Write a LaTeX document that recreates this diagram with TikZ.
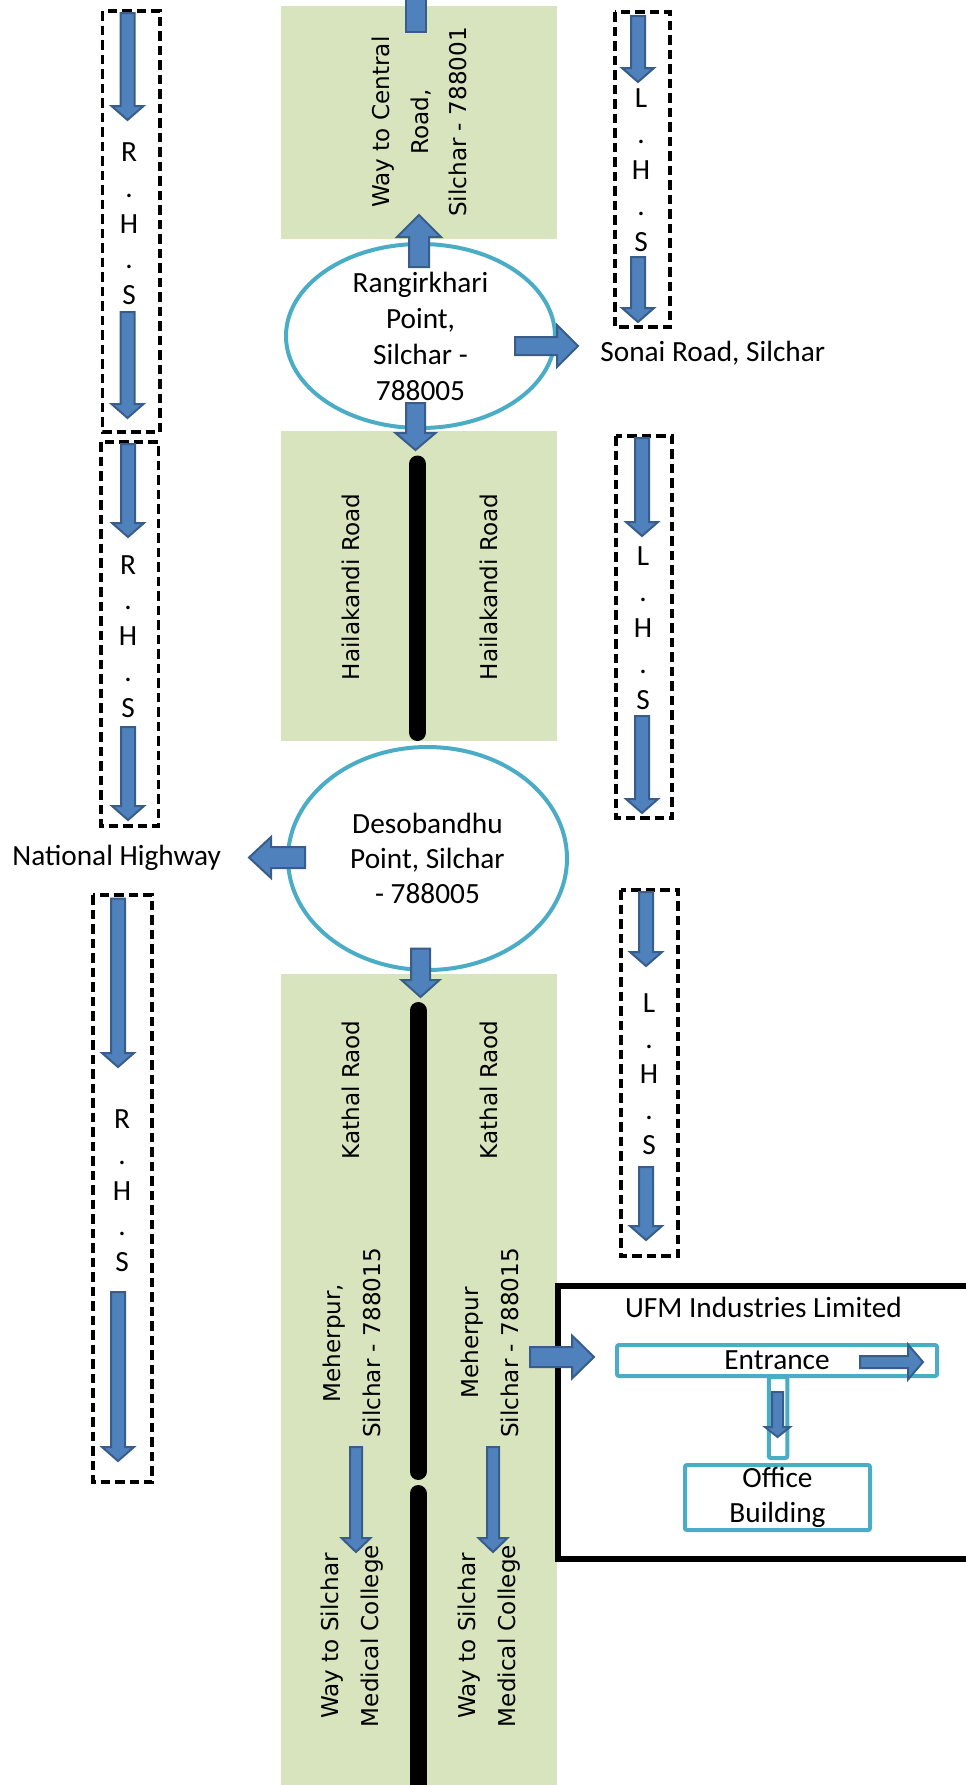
\documentclass[tikz,border=0pt]{standalone}
\usepackage{fontspec}
\setmainfont{Carlito}
\newfontfamily\dejavufont{DejaVu Sans}
\usetikzlibrary{shapes.geometric}
\definecolor{roadgreen}{HTML}{D7E4BD}
\definecolor{ringcyan}{HTML}{4BACC6}
\definecolor{arrfill}{HTML}{4F81BD}
\definecolor{arredge}{HTML}{385D8A}
% #1 x, #2 y (tail), #3 rotation, #4 length, #5 shaft half width, #6 head half width, #7 head length
\newcommand{\blockarr}[7]{%
  \begin{scope}[shift={(#1,#2)},rotate=#3]
    \draw[barrow] (0,-#5) -- ({#4-#7},-#5) -- ({#4-#7},-#6) -- (#4,0) -- ({#4-#7},#6) -- ({#4-#7},#5) -- (0,#5) -- cycle;
  \end{scope}}
% #1 x, #2 first baseline, #3 spacing, #4 first letter, #5 name
\newcommand{\sideletters}[5]{%
  \foreach \t [count=\i from 0] in {#4,.,H,.,S}
    \node[lbl, anchor=base] (#5-\i) at (#1,{#2+\i*#3}) {\t};}
\begin{document}
\begin{tikzpicture}[x=0.5pt,y=-0.5pt,
  greenbox/.style={fill=roadgreen, inner sep=0, minimum width=138pt},
  roadline/.style={line width=8.5pt, line cap=round},
  ring/.style={ellipse, draw=ringcyan, line width=2pt, fill=white, inner sep=0},
  dbox/.style={draw, line width=1.6pt, dash pattern=on 4.75pt off 2.5pt},
  barrow/.style={fill=arrfill, draw=arredge, line width=1pt, line join=miter},
  lbl/.style={font=\fontsize{14.65}{18}\selectfont, inner sep=0, align=center},
  vt/.style={font=\dejavufont\fontsize{11.55}{20}\selectfont, rotate=90, inner sep=0, align=center},
  cbox/.style={draw=ringcyan, line width=2pt, rounded corners=1pt, inner sep=0},
]
\useasboundingbox (0,0) rectangle (965,1785);

% green road boxes
\node[greenbox, minimum height=116.5pt] (road1) at (419,122.5) {};
\node[greenbox, minimum height=155pt] (road2) at (419,586) {};
\node[greenbox, minimum height=408pt] (road3) at (419,1382) {};

% black centre lines
\draw[roadline] (417.5,464) -- (417.5,732.5);
\draw[roadline] (418,1010.5) -- (418,1471.5);
\draw[roadline] (418,1493.5) -- (418,1800);

% rotated road texts
\node[vt, font=\dejavufont\fontsize{11.55}{19.25}\selectfont] (central) at (419.5,122) {Way to Central\\Road,\\Silchar - 788001};
\node[vt] (hk1) at (351,587) {Hailakandi Road};
\node[vt] (hk2) at (489,587) {Hailakandi Road};
\node[vt] (kr1) at (351,1090) {Kathal Raod};
\node[vt] (kr2) at (489,1090) {Kathal Raod};
\node[vt] (mp1) at (352,1343) {Meherpur,\\Silchar - 788015};
\node[vt] (mp2) at (489.5,1343) {Meherpur\\Silchar - 788015};
\node[vt] (mc1) at (352,1636) {Way to Silchar\\Medical College};
\node[vt] (mc2) at (489.5,1636) {Way to Silchar\\Medical College};

% roundabouts
\node[ring, lbl, minimum width=134.5pt, minimum height=92pt] (rang) at (420.5,336) {Rangirkhari\\Point,\\Silchar -\\788005};
\node[ring, lbl, font=\fontsize{14.65}{17.5}\selectfont, minimum width=139.5pt, minimum height=111.5pt] (deso) at (427.5,858.5) {Desobandhu\\Point, Silchar\\- 788005};

% side labels
\node[lbl, anchor=west] (sonai) at (600,353) {Sonai Road, Silchar};
\node[lbl, anchor=west] (nh) at (12,857.5) {National Highway};

% UFM compound
\node[draw, line width=3pt, minimum width=226.25pt, minimum height=136.5pt, inner sep=0] (ufm) at (783.75,1422.5) {};
\node[lbl] (ufmtitle) at (763.5,1307) {UFM Industries Limited};
\node[cbox, fill=white, minimum width=9.25pt, minimum height=40.5pt] (link) at (778,1417.5) {};
\node[cbox, lbl, minimum width=160pt, minimum height=15.5pt] (entr) at (777,1360.5) {Entrance};
\node[cbox, lbl, font=\fontsize{14.65}{17.5}\selectfont, minimum width=92.5pt, minimum height=32.5pt] (office) at (777.5,1497.5) {Office\\Building};

% dashed side boxes
\draw[dbox] (102.5,11) rectangle (160,432);
\draw[dbox] (101,442) rectangle (158.5,826);
\draw[dbox] (93,895) rectangle (152,1482);
\draw[dbox] (615,12) rectangle (670,327);
\draw[dbox] (616,436) rectangle (672,818);
\draw[dbox] (621,890) rectangle (678,1256);

\sideletters{129}{161.5}{35.75}{R}{l1}
\sideletters{128}{574}{35.75}{R}{l2}
\sideletters{122}{1128.5}{35.75}{R}{l3}
\sideletters{641}{107.5}{36}{L}{r1}
\sideletters{643}{565}{36}{L}{r2}
\sideletters{649}{1012.5}{35.5}{L}{r3}

% arrows in dashed boxes
\blockarr{127.5}{13}{-90}{107}{7}{16}{14}
\blockarr{127.5}{312}{-90}{106}{7}{16}{14}
\blockarr{128}{444}{-90}{93}{7}{16}{14}
\blockarr{128}{727}{-90}{93}{7}{16}{14}
\blockarr{118}{898.6}{-90}{168.4}{7}{16}{14}
\blockarr{118}{1292}{-90}{169}{7}{16}{14}
\blockarr{638}{16}{-90}{66}{7}{16}{14}
\blockarr{638}{257}{-90}{65}{7}{16}{14}
\blockarr{642}{438}{-90}{98}{7}{16}{14}
\blockarr{642}{716}{-90}{97}{7}{16}{14}
\blockarr{646}{892}{-90}{74}{7}{16}{14}
\blockarr{646}{1167}{-90}{73}{7}{16}{14}

% main arrows
\draw[barrow] (406,-10) rectangle (426,32);
\blockarr{419}{267}{90}{52}{10}{22}{22}
\blockarr{415.5}{403}{-90}{47}{9.5}{20}{17}
\blockarr{515}{346}{0}{63}{9}{21}{21}
\blockarr{305}{857.5}{180}{56}{10.5}{20.5}{22}
\blockarr{420.5}{948.6}{-90}{48.4}{9.5}{19}{17}
\blockarr{530}{1357}{0}{64}{10}{21.5}{22}
\blockarr{860}{1362}{0}{63}{6}{17.5}{15}
\blockarr{777.5}{1392}{-90}{45}{5.5}{12.5}{10}
\blockarr{356}{1447}{-90}{105}{6}{14.5}{14}
\blockarr{493}{1447}{-90}{105}{6}{14.5}{14}
\end{tikzpicture}
\end{document}
